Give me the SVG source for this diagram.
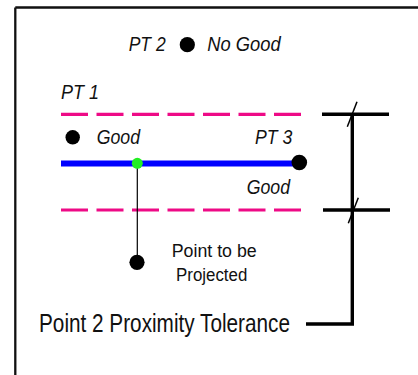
<svg xmlns="http://www.w3.org/2000/svg" width="418" height="375" viewBox="0 0 418 375">
<style>
.lbl{font-family:"Liberation Sans",Arial,sans-serif;fill:#111;}
.it{font-style:italic;font-size:21px;}
.dot{fill:#000;}
.tol{stroke:#ee0a86;stroke-width:3.2;stroke-dasharray:27 8.5;fill:none;}
.dim{stroke:#000;stroke-width:3.4;fill:none;}
.tick{stroke:#000;stroke-width:1.5;fill:none;}
</style>
<rect x="0" y="0" width="418" height="375" fill="#fff"/>
<g id="frame">
<path d="M15.3,7.5 H418 M15.3,7.5 V375" stroke="#111" stroke-width="2.3" fill="none"/>
</g>
<g id="connectors">
<line class="tol" x1="61" y1="114.3" x2="301" y2="114.3"/>
<line class="tol" x1="61" y1="210" x2="301" y2="210"/>
<line x1="61" y1="163.5" x2="299" y2="163.5" stroke="#0000ff" stroke-width="6"/>
<line x1="137.3" y1="163.5" x2="137.3" y2="262" stroke="#000" stroke-width="1.2"/>
<path class="dim" d="M322,114.3 H389 M323,210 H390 M352.3,114.3 V324 H306"/>
<line class="tick" x1="357" y1="101.7" x2="347.3" y2="126.7"/>
<line class="tick" x1="358.3" y1="197.7" x2="348.3" y2="223.3"/>
</g>
<g id="pt2">
<text class="lbl it" x="128.7" y="50.7" textLength="37" lengthAdjust="spacingAndGlyphs">PT 2</text>
<circle class="dot" cx="187.3" cy="44.7" r="7.6"/>
<text class="lbl it" x="207.3" y="50.7" textLength="73.4" lengthAdjust="spacingAndGlyphs">No Good</text>
</g>
<g id="pt1">
<text class="lbl it" x="61" y="99" textLength="38" lengthAdjust="spacingAndGlyphs">PT 1</text>
<circle class="dot" cx="72.7" cy="137.3" r="7.2"/>
<text class="lbl it" x="96.7" y="144" textLength="43.3" lengthAdjust="spacingAndGlyphs">Good</text>
</g>
<g id="pt3">
<text class="lbl it" x="255" y="144" textLength="37.3" lengthAdjust="spacingAndGlyphs">PT 3</text>
<circle class="dot" cx="299.3" cy="162.5" r="7.8"/>
<text class="lbl it" x="246.7" y="194" textLength="43.3" lengthAdjust="spacingAndGlyphs">Good</text>
</g>
<g id="projection">
<circle cx="137.3" cy="163.3" r="5.5" fill="#22ee22"/>
</g>
<g id="point-to-project">
<circle class="dot" cx="137" cy="262.3" r="7.6"/>
<text class="lbl" font-size="18" x="171.7" y="256.7" textLength="85" lengthAdjust="spacingAndGlyphs">Point to be</text>
<text class="lbl" font-size="18" x="176" y="281" textLength="71.3" lengthAdjust="spacingAndGlyphs">Projected</text>
</g>
<g id="tolerance-label">
<text class="lbl" font-size="26" x="39" y="331.5" textLength="251" lengthAdjust="spacingAndGlyphs">Point 2 Proximity Tolerance</text>
</g>
</svg>
